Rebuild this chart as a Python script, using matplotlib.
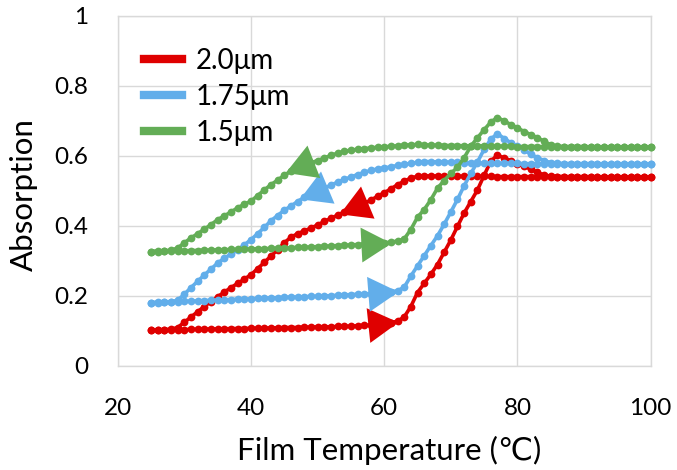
import numpy as np
import matplotlib.pyplot as plt

# Temperature steps (degC), each film is heated 25 -> 100 then cooled back to 25
temps = np.arange(25, 101)

labels = ["2.0\u03bcm", "1.75\u03bcm", "1.5\u03bcm"]
colors = ["#df0000", "#62aeea", "#63ad56"]

red_heat = [0.103, 0.103, 0.103, 0.104, 0.104, 0.104, 0.105, 0.105, 0.105, 0.106,
            0.106, 0.106, 0.107, 0.107, 0.107, 0.108, 0.108, 0.108, 0.109, 0.109,
            0.110, 0.110, 0.110, 0.111, 0.111, 0.112, 0.112, 0.112, 0.113, 0.113,
            0.114, 0.115, 0.116, 0.117, 0.119, 0.121, 0.124, 0.128, 0.140, 0.170,
            0.210, 0.236, 0.262, 0.290, 0.325, 0.360, 0.399, 0.437, 0.470, 0.503,
            0.545, 0.585, 0.603, 0.594, 0.587, 0.578, 0.571, 0.562, 0.553, 0.546,
            0.542, 0.541, 0.541, 0.541, 0.541, 0.541, 0.541, 0.540, 0.540, 0.540,
            0.540, 0.540, 0.540, 0.540, 0.540, 0.540]
red_cool = [0.103, 0.103, 0.104, 0.105, 0.110, 0.125, 0.140, 0.155, 0.170, 0.184,
            0.198, 0.211, 0.224, 0.236, 0.248, 0.261, 0.278, 0.296, 0.314, 0.332,
            0.352, 0.368, 0.378, 0.386, 0.394, 0.403, 0.413, 0.422, 0.431, 0.440,
            0.449, 0.456, 0.465, 0.474, 0.485, 0.495, 0.506, 0.518, 0.528, 0.537,
            0.542, 0.543, 0.543, 0.543, 0.543, 0.542, 0.542, 0.542, 0.542, 0.542,
            0.542, 0.542, 0.541, 0.541, 0.541, 0.541, 0.541, 0.541, 0.541, 0.541,
            0.541, 0.541, 0.541, 0.540, 0.540, 0.540, 0.540, 0.540, 0.540, 0.540,
            0.540, 0.540, 0.540, 0.540, 0.540, 0.540]

blue_heat = [0.181, 0.182, 0.183, 0.183, 0.184, 0.185, 0.185, 0.186, 0.187, 0.188,
             0.188, 0.189, 0.190, 0.191, 0.191, 0.192, 0.193, 0.194, 0.195, 0.195,
             0.196, 0.197, 0.197, 0.198, 0.199, 0.199, 0.200, 0.201, 0.202, 0.203,
             0.204, 0.205, 0.206, 0.207, 0.208, 0.210, 0.212, 0.215, 0.225, 0.257,
             0.286, 0.315, 0.344, 0.372, 0.405, 0.440, 0.476, 0.515, 0.550, 0.583,
             0.619, 0.648, 0.664, 0.650, 0.638, 0.628, 0.617, 0.605, 0.595, 0.587,
             0.581, 0.579, 0.578, 0.578, 0.578, 0.578, 0.578, 0.578, 0.577, 0.577,
             0.577, 0.577, 0.577, 0.577, 0.577, 0.577]
blue_cool = [0.181, 0.181, 0.182, 0.183, 0.188, 0.205, 0.224, 0.242, 0.260, 0.277,
             0.294, 0.308, 0.320, 0.332, 0.346, 0.361, 0.378, 0.396, 0.415, 0.430,
             0.445, 0.457, 0.470, 0.482, 0.492, 0.500, 0.508, 0.517, 0.525, 0.533,
             0.540, 0.547, 0.553, 0.559, 0.563, 0.566, 0.569, 0.573, 0.576, 0.579,
             0.582, 0.584, 0.584, 0.583, 0.583, 0.582, 0.582, 0.581, 0.581, 0.580,
             0.580, 0.580, 0.579, 0.579, 0.579, 0.579, 0.578, 0.578, 0.578, 0.578,
             0.578, 0.578, 0.578, 0.578, 0.577, 0.577, 0.577, 0.577, 0.577, 0.577,
             0.577, 0.577, 0.577, 0.577, 0.577, 0.577]

green_heat = [0.327, 0.327, 0.328, 0.328, 0.329, 0.329, 0.330, 0.330, 0.331, 0.331,
              0.332, 0.332, 0.333, 0.333, 0.334, 0.334, 0.335, 0.335, 0.336, 0.337,
              0.337, 0.338, 0.339, 0.339, 0.340, 0.341, 0.342, 0.343, 0.344, 0.345,
              0.346, 0.347, 0.348, 0.349, 0.350, 0.352, 0.354, 0.357, 0.363, 0.390,
              0.425, 0.447, 0.475, 0.508, 0.530, 0.550, 0.568, 0.595, 0.628, 0.652,
              0.675, 0.697, 0.710, 0.700, 0.690, 0.680, 0.670, 0.661, 0.652, 0.642,
              0.632, 0.628, 0.627, 0.627, 0.627, 0.627, 0.626, 0.626, 0.626, 0.626,
              0.626, 0.626, 0.625, 0.625, 0.625, 0.625]
green_cool = [0.327, 0.328, 0.329, 0.331, 0.337, 0.352, 0.366, 0.378, 0.391, 0.404,
              0.418, 0.429, 0.440, 0.452, 0.462, 0.471, 0.487, 0.503, 0.518, 0.531,
              0.545, 0.556, 0.566, 0.574, 0.581, 0.587, 0.594, 0.602, 0.608, 0.613,
              0.617, 0.619, 0.621, 0.623, 0.625, 0.626, 0.628, 0.629, 0.631, 0.632,
              0.633, 0.632, 0.631, 0.631, 0.630, 0.630, 0.630, 0.629, 0.629, 0.629,
              0.629, 0.628, 0.628, 0.628, 0.628, 0.627, 0.627, 0.627, 0.627, 0.627,
              0.627, 0.627, 0.626, 0.626, 0.626, 0.626, 0.626, 0.626, 0.626, 0.626,
              0.626, 0.626, 0.625, 0.625, 0.625, 0.625]

heating = [red_heat, blue_heat, green_heat]
cooling = [red_cool, blue_cool, green_cool]

# where the direction arrows sit on each branch (degC)
heat_arrow_at = [59, 59, 58]
cool_arrow_at = [56, 50, 48]

FONT = ["Lato", "DejaVu Sans", "Noto Sans CJK JP"]


def add_arrow(ax, xs, ys, i, forward, color):
    # point the triangle along the curve, measured in screen space
    p0 = ax.transData.transform((xs[i - 1], ys[i - 1]))
    p1 = ax.transData.transform((xs[i + 1], ys[i + 1]))
    d = p1 - p0 if forward else p0 - p1
    angle = np.degrees(np.arctan2(d[1], d[0]))
    ax.plot(xs[i], ys[i], marker=(3, 0, angle - 90), markersize=29,
            color=color, markeredgewidth=0, linestyle="none", zorder=5)


def main():
    plt.rcParams["font.family"] = FONT
    fig = plt.figure(figsize=(6.77, 4.70), dpi=100)
    ax = fig.add_axes([117.7 / 677, 104 / 470, 533 / 677, 350 / 470])
    ax.set_xlim(20, 100)
    ax.set_ylim(0, 1)

    for k in range(3):
        xs = np.concatenate([temps, temps[::-1]])
        ys = np.concatenate([heating[k], cooling[k][::-1]])
        ax.plot(xs, ys, "-o", color=colors[k], linewidth=2.6, markersize=5.6,
                markeredgewidth=0, clip_on=False, zorder=3 + k * 0.1)

    for k in range(3):
        i = int(np.where(temps == heat_arrow_at[k])[0][0])
        add_arrow(ax, temps, heating[k], i, True, colors[k])
        j = int(np.where(temps == cool_arrow_at[k])[0][0])
        add_arrow(ax, temps, cooling[k], j, False, colors[k])

    ax.set_xticks([20, 40, 60, 80, 100])
    ax.set_yticks([0, 0.2, 0.4, 0.6, 0.8, 1.0])
    ax.set_yticklabels(["0", "0.2", "0.4", "0.6", "0.8", "1"])
    ax.tick_params(axis="both", length=0, labelsize=17.5, colors="black")
    ax.tick_params(axis="x", pad=23)
    ax.tick_params(axis="y", pad=21)
    ax.grid(color="#d9d9d9", linewidth=1)
    ax.set_axisbelow(True)
    for s in ax.spines.values():
        s.set_color("#d9d9d9")
        s.set_linewidth(1)

    ax.set_xlabel("Film Temperature (\u2103)", fontsize=22.5)
    ax.xaxis.set_label_coords(0.51, -0.2)
    ax.set_ylabel("Absorption", fontsize=22.5)
    ax.yaxis.set_label_coords(-0.15, 0.49)

    handles = [plt.Line2D([], [], color=c, linewidth=6) for c in colors]
    ax.legend(handles, labels, loc="upper left", bbox_to_anchor=(0.05, 0.91),
              frameon=False, fontsize=20, handlelength=1.35, handletextpad=0.5,
              labelspacing=0.36, borderpad=0, borderaxespad=0)

    fig.savefig("out.png", dpi=100)


if __name__ == "__main__":
    main()
